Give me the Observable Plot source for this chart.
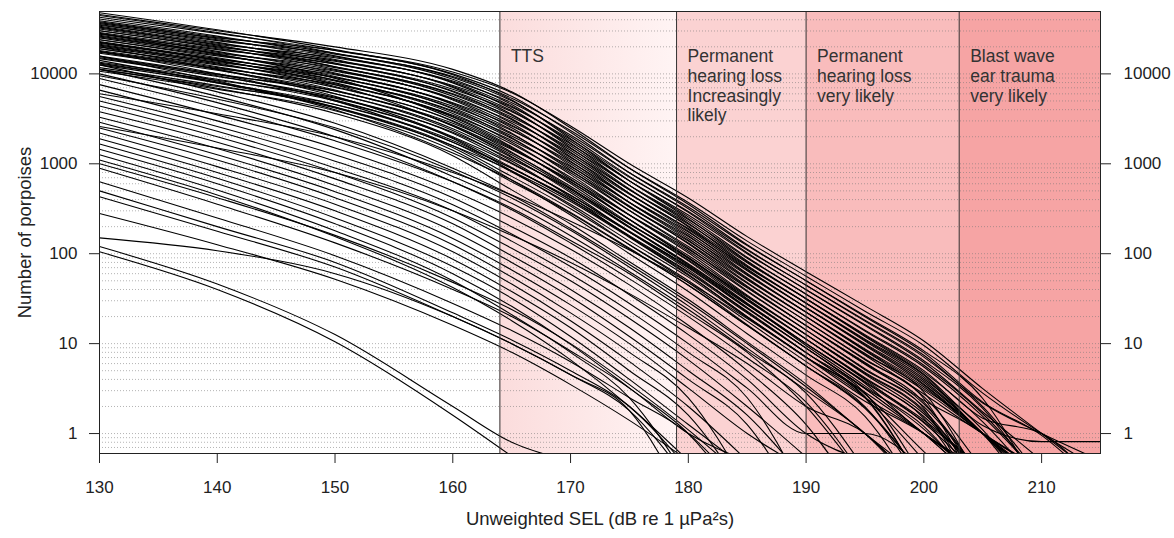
<!DOCTYPE html>
<html><head><meta charset="utf-8">
<script src="https://cdn.jsdelivr.net/npm/d3@7"></script>
<script src="https://cdn.jsdelivr.net/npm/@observablehq/plot@0.6"></script>
<style>body{margin:0;background:#fff;}</style>
</head><body><div id="chart"></div>
<script>
// SEL grid (dB re 1 µPa²s) at which each curve is read
const sel = [130,140,150,160,165,170,175,180,185,190,195,200,205,210,215];

// Upper (dense) band: log10(number of porpoises), one row per scenario
const topBandLog10 = [
  [4.66,4.48,4.30,4.05,3.80,3.40,2.95,2.55,2.10,1.70,1.30,0.90,0.35,-0.02,-0.6],
  [4.68,4.49,4.27,3.99,3.71,3.28,2.81,2.39,1.92,1.50,1.08,0.66,0.09,-0.09,-0.09],
  [4.63,4.45,4.26,4.00,3.75,3.35,2.90,2.50,2.05,1.65,1.25,0.85,0.30,-0.5],
  [4.65,4.46,4.23,3.94,3.66,3.23,2.76,2.34,1.87,1.45,1.03,0.61,0.04,-0.8],
  [4.59,4.41,4.23,3.96,3.70,3.30,2.86,2.46,2.01,1.60,1.20,0.79,0.24,-0.3],
  [4.61,4.42,4.20,3.90,3.61,3.18,2.72,2.30,1.83,1.40,0.98,0.55,0,-0.6],
  [4.57,4.40,4.26,4.02,3.79,3.42,3.00,2.62,2.19,1.80,1.42,1.03,0.50,0,-0.5],
  [4.56,4.38,4.19,3.91,3.64,3.25,2.81,2.41,1.96,1.55,1.14,0.74,0.19,-0.5],
  [4.58,4.39,4.16,3.85,3.55,3.13,2.67,2.25,1.78,1.35,0.92,0.50,0,-0.9],
  [4.54,4.37,4.22,3.97,3.73,3.37,2.95,2.57,2.14,1.75,1.36,0.98,0.45,0,-0.4],
  [4.53,4.34,4.15,3.86,3.59,3.20,2.76,2.36,1.91,1.50,1.09,0.68,0.13,-0.6],
  [4.55,4.35,4.12,3.80,3.50,3.08,2.62,2.20,1.73,1.30,0.87,0.44,0,-0.4],
  [4.51,4.33,4.18,3.92,3.68,3.32,2.90,2.52,2.09,1.70,1.31,0.92,0.39,-0.7],
  [4.50,4.31,4.11,3.81,3.54,3.15,2.71,2.31,1.86,1.45,1.04,0.63,0,-0.5],
  [4.52,4.32,4.08,3.75,3.45,3.03,2.57,2.15,1.68,1.25,0.82,0.39,-0.8],
  [4.48,4.30,4.14,3.87,3.63,3.27,2.85,2.47,2.04,1.65,1.26,0.87,0.34,0,-0.3],
  [4.46,4.28,4.08,3.77,3.49,3.10,2.67,2.27,1.82,1.40,0.99,0.57,0,-0.7],
  [4.48,4.29,4.05,3.71,3.40,2.98,2.53,2.11,1.64,1.20,0.77,0.33,-0.5],
  [4.44,4.27,4.11,3.83,3.58,3.22,2.81,2.43,2.00,1.60,1.21,0.81,0.28,-0.6],
  [4.43,4.24,4.04,3.72,3.43,3.05,2.62,2.22,1.77,1.35,0.93,0.52,0,-0.4],
  [4.45,4.25,4.01,3.66,3.34,2.93,2.48,2.06,1.59,1.15,0.71,0.28,-0.9],
  [4.41,4.23,4.07,3.78,3.52,3.17,2.76,2.38,1.95,1.55,1.15,0.76,0.22,-0.5],
  [4.40,4.21,4.00,3.67,3.38,3.00,2.57,2.17,1.72,1.30,0.88,0.46,-0.6],
  [4.42,4.22,3.97,3.61,3.29,2.88,2.43,2.01,1.54,1.10,0.66,0.22,-0.5],
  [4.38,4.20,4.03,3.73,3.47,3.12,2.71,2.33,1.90,1.50,1.10,0.70,0.17,0,-0.6],
  [4.36,4.17,3.96,3.62,3.33,2.95,2.52,2.12,1.67,1.25,0.83,0.41,-0.4],
  [4.38,4.18,3.93,3.56,3.24,2.83,2.38,1.96,1.49,1.05,0.61,0.17,-0.8],
  [4.34,4.16,3.99,3.68,3.42,3.07,2.66,2.28,1.85,1.45,1.05,0.65,0,-0.5],
  [4.33,4.14,3.93,3.58,3.28,2.90,2.48,2.08,1.63,1.20,0.78,0.35,-0.6],
  [4.35,4.15,3.90,3.52,3.19,2.78,2.34,1.92,1.45,1.00,0.56,0,-0.4],
  [4.31,4.13,3.96,3.64,3.37,3.02,2.62,2.24,1.81,1.40,1.00,0.59,0,-0.7],
  [4.30,4.11,3.89,3.53,3.22,2.85,2.43,2.03,1.58,1.15,0.72,0.30,-0.5],
  [4.32,4.12,3.86,3.47,3.13,2.73,2.29,1.87,1.40,0.95,0.50,0,-0.6],
  [4.28,4.10,3.92,3.59,3.31,2.97,2.57,2.19,1.76,1.35,0.94,0.54,0,-0.4],
  [4.26,4.07,3.85,3.48,3.17,2.80,2.38,1.98,1.53,1.10,0.67,0.24,-0.7],
  [4.28,4.08,3.82,3.42,3.08,2.68,2.24,1.82,1.35,0.90,0.45,-0.5],
  [4.24,4.06,3.88,3.54,3.26,2.92,2.52,2.14,1.71,1.30,0.89,0.48,0,-0.5],
  [4.23,4.04,3.81,3.43,3.12,2.75,2.33,1.93,1.48,1.05,0.62,0.19,-0.5],
  [4.25,4.05,3.78,3.37,3.03,2.63,2.19,1.77,1.30,0.85,0.40,-0.6],
  [4.20,4.00,3.78,3.39,3.07,2.70,2.29,1.89,1.44,1.00,0.57,0.13,-0.4],
  [4.18,3.99,3.81,3.45,3.16,2.82,2.43,2.05,1.62,1.20,0.79,0.37,0,-0.6],
  [4.17,3.97,3.74,3.34,3.01,2.65,2.24,1.84,1.39,0.95,0.51,0.08,-0.7],
  [4.19,3.98,3.71,3.28,2.92,2.53,2.10,1.68,1.21,0.75,0.29,-0.5],
  [4.13,3.94,3.70,3.29,2.96,2.60,2.19,1.79,1.34,0.90,0.46,0,-0.5],
  [4.11,3.93,3.73,3.35,3.05,2.72,2.33,1.95,1.52,1.10,0.68,0.26,-0.6],
  [4.10,3.90,3.66,3.24,2.91,2.55,2.14,1.74,1.29,0.85,0.41,-0.6],
  [4.12,3.91,3.63,3.18,2.82,2.43,2.00,1.58,1.11,0.65,0.19,-0.8],
  [4.07,3.87,3.63,3.20,2.86,2.50,2.10,1.70,1.25,0.80,0.36,0,-0.5],
  [4.05,3.86,3.66,3.26,2.95,2.62,2.24,1.86,1.43,1.00,0.58,0.15,-0.4],
  [4.03,3.83,3.59,3.15,2.80,2.45,2.05,1.65,1.20,0.75,0.30,-0.6],
  [4.05,3.84,3.56,3.09,2.71,2.33,1.91,1.49,1.02,0.55,0,-0.5]
];
// Curves that leave the upper band early (log10 of count)
const bridgeBandLog10 = [
  [4.30,4.05,3.75,3.30,3.00,2.65,2.25,1.85,1.40,0.95,0.50,0,-0.6],
  [4.20,3.92,3.60,3.12,2.82,2.46,2.06,1.65,1.20,0.75,0.28,-0.5],
  [4.10,3.80,3.45,2.95,2.65,2.28,1.88,1.46,1.00,0.52,0,-0.6],
  [4.00,3.68,3.30,2.80,2.49,2.12,1.72,1.30,0.84,0.35,-0.5],
  [3.98,3.72,3.40,2.92,2.62,2.26,1.85,1.42,0.95,0.48,0,-0.7],
  [4.45,4.22,3.95,3.50,3.18,2.80,2.38,1.95,1.50,1.05,0.60,0.12,-0.5],
  [4.15,3.90,3.62,3.20,2.92,2.58,2.18,1.76,1.30,0.85,0.40,-0.3],
  [4.05,3.75,3.38,2.86,2.56,2.20,1.80,1.38,0.92,0.45,-0.4],
  [4.25,4.00,3.70,3.24,2.95,2.60,2.20,1.80,1.36,0.90,0.44,-0.2,-0.8],
  [4.35,4.15,3.88,3.42,3.10,2.72,2.30,1.88,1.44,0.98,0.53,0.05,-0.6]
];
// Middle and low bands: number of porpoises, one row per scenario
const midBand = [
  [8900,4200,1800,630,320,140,60,22,8,2,0.3],
  [7600,3500,1500,500,250,112,45,16,5,1.26,0.15],
  [6600,3000,1260,420,200,90,35,12.6,4,1,0.5],
  [5600,2600,1070,350,166,72,28,10,3.2,1,1,0.4],
  [5000,2300,900,300,138,59,23,8,2.5,0.2],
  [4400,2000,800,250,115,50,19,6.6,2,0.55],
  [3800,1740,680,215,95,40,15,5,1.6,0.3],
  [3300,1480,575,178,80,33,12,4,1.26,0.12],
  [2900,1260,490,148,66,27,10,3.2,1,0.4],
  [2500,1100,420,126,55,22,8,2.5,0.25],
  [2200,930,355,105,46,18,6.3,2,0.5],
  [1900,800,300,87,38,15,5,1.6,0.2],
  [1660,690,250,72,32,12,4,1.26,0.4],
  [1450,600,215,60,26,9.8,3.2,1,0.15],
  [1260,510,180,50,21,8,2.5,0.3],
  [1100,450,155,42,18,6.6,2,0.5],
  [6000,3600,2000,800,450,230,110,48,19,7,2.5,1,0.3],
  [2600,1500,800,300,160,80,36,15,6,2,1,0.2]
];
const lowBand = [
  [1000,420,160,48,24,10,3.5,1.1,0.3],
  [890,355,132,40,20,8.3,3.2,1,0.5],
  [630,250,95,28,14,6.3,2.5,1,0.2],
  [500,200,80,22,11,5,2,0.4],
  [430,178,71,20,10,4.5,1.8,0.15],
  [280,126,52,16,8,3.5,1.4,0.5],
  [150,108,60,20,10,4.5,1.8,0.3],
  [120,46,12.6,2,0.8,0.5],
  [105,40,10.5,1.6,0.56]
];

// Effect zones
const zoneStart = [164,179,190,203];
const zoneEnd = [179,190,203,215];
const zoneFill = ["url(#ttsGrad)","#fbd2d2","#f9bcbc","#f6a4a4"];
const zoneLabel = ["TTS","Permanent\nhearing loss\nIncreasingly\nlikely","Permanent\nhearing loss\nvery likely","Blast wave\near trauma\nvery likely"];

// Axes
const xTicks = [130,140,150,160,170,180,190,200,210];
const yTicks = [1,10,100,1000,10000];
const xDomain = [130,215];
const yDomain = [0.6,49400];
const xTitle = "Unweighted SEL (dB re 1 \u00b5Pa\u00b2s)";
const yTitle = "Number of porpoises";

const curves = [
  ...[...topBandLog10, ...bridgeBandLog10].map(r => r.map(v => Math.pow(10, v))),
  ...midBand, ...lowBand
];
const rows = [];
curves.forEach((c, i) => c.forEach((v, j) => { if (v != null) rows.push({id: i, sel: sel[j], n: v}); }));

const zones = zoneStart.map((s, i) => ({start: s, end: zoneEnd[i], fill: zoneFill[i], label: zoneLabel[i]}));

const font = "'Liberation Sans', Arial, sans-serif";
const chart = Plot.plot({
  width: 1174, height: 538,
  marginLeft: 99, marginRight: 74, marginTop: 11, marginBottom: 85,
  style: {fontFamily: font, fontSize: "17px", color: "#222", background: "white"},
  x: {domain: xDomain, label: null},
  y: {type: "log", domain: yDomain, label: null},
  marks: [
    ...zones.map(z => Plot.rect([z], {x1: "start", x2: "end", y1: () => yDomain[0], y2: () => yDomain[1], fill: z.fill})),
    Plot.gridY({stroke: "#777", strokeOpacity: 0.55, strokeDasharray: "1,2", strokeWidth: 1}),
    Plot.line(rows, {x: "sel", y: "n", z: "id", curve: "monotone-x", stroke: "black", strokeWidth: 1.1, clip: true}),
    Plot.ruleX(zoneStart, {stroke: "#333", strokeWidth: 1}),
    Plot.text(zones, {x: "start", text: "label", frameAnchor: "top", dx: 11, dy: 37, textAnchor: "start", lineAnchor: "top", fontSize: 17.5, fill: "#333", lineHeight: 1.12}),
    Plot.frame({stroke: "#222"}),
    Plot.axisX({ticks: xTicks, tickSize: 10, tickPadding: 17, tickFormat: d => String(d), label: null, fontSize: 17}),
    Plot.axisY({anchor: "left", ticks: yTicks, tickSize: 10, tickPadding: 12, tickFormat: d => String(d), label: null, fontSize: 17}),
    Plot.axisY({anchor: "right", ticks: yTicks, tickSize: 10, tickPadding: 13, tickFormat: d => String(d), label: null, fontSize: 17}),
    Plot.text([xTitle], {text: d => d, frameAnchor: "bottom", dy: 71, fontSize: 18.5, fill: "#222"}),
    Plot.text([yTitle], {text: d => d, frameAnchor: "left", dx: -74, rotate: -90, textAnchor: "middle", fontSize: 18.5, fill: "#222"})
  ]
});

const svg = d3.select(chart);
const grad = svg.insert("defs", ":first-child").append("linearGradient")
  .attr("id", "ttsGrad").attr("x1", "0").attr("x2", "1").attr("y1", "0").attr("y2", "0");
grad.append("stop").attr("offset", "0").attr("stop-color", "#fbdcdc");
grad.append("stop").attr("offset", "1").attr("stop-color", "#fff4f4");

document.getElementById("chart").appendChild(chart);
</script>
</body></html>
